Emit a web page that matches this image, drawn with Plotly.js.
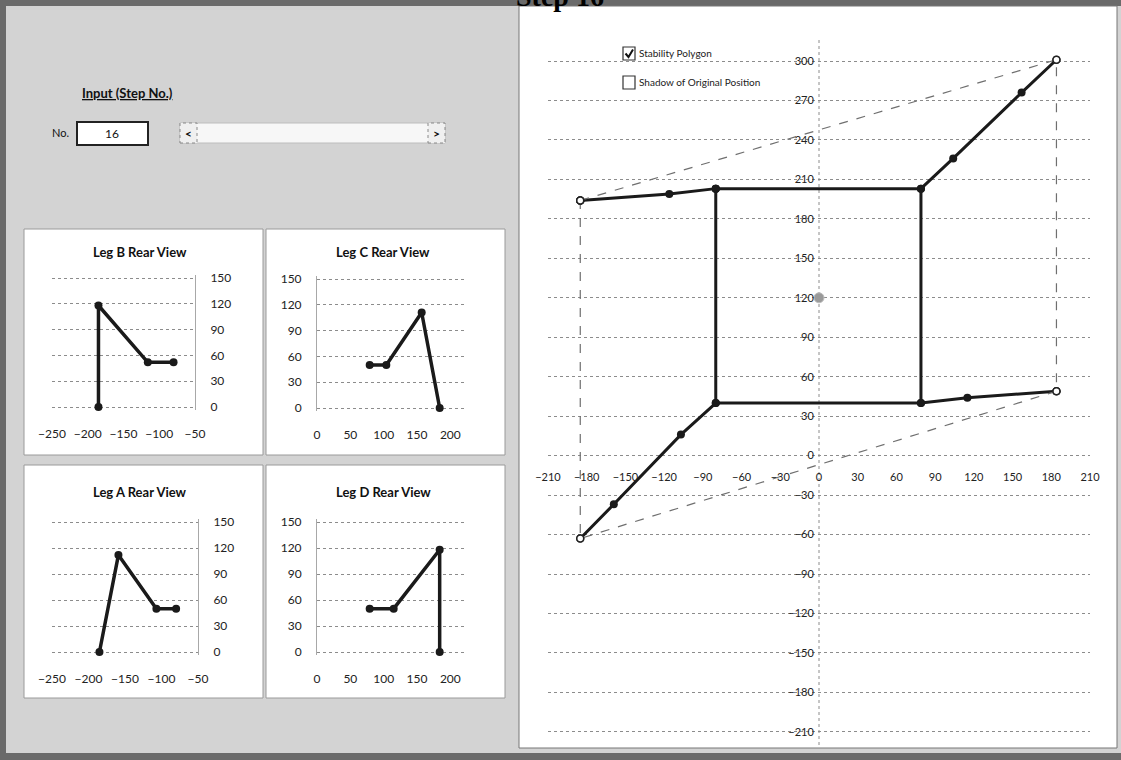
<!DOCTYPE html>
<html>
<head>
<meta charset="utf-8">
<script src="https://cdn.plot.ly/plotly-3.0.1.min.js"></script>
<style>
html,body{margin:0;padding:0;background:#d3d3d3;}
#chart{width:1121px;height:760px;}
</style>
</head>
<body>
<div id="chart"></div>
<script>
// ---------------- data ----------------
const stepNo = 16;
const stepTitle = "Step 16";

// leg coordinates: x (lateral), z (height, rear view), y (top view)
const legB_x = [-185, -185, -116, -80];
const legB_z = [0, 118, 52, 52];
const legB_y = [194, 194, 199, 203];

const legC_x = [79, 104, 157, 184];
const legC_z = [50, 50, 111, 0];
const legC_y = [203, 226, 276, 301];

const legA_x = [-185, -159, -107, -80];
const legA_z = [0, 112, 50, 50];
const legA_y = [-63, -37, 16, 40];

const legD_x = [79, 115, 184, 184];
const legD_z = [50, 50, 118, 0];
const legD_y = [40, 44, 49, 49];

const bodyX = [-80, 79, 79, -80, -80];
const bodyY = [203, 203, 40, 40, 203];

const polygonX = [-185, 184, 184, -185, -185];
const polygonY = [194, 301, 49, -63, 194];

const centerX = [0];
const centerY = [120];

const mainXTicks = [-210, -180, -150, -120, -90, -60, -30, 0, 30, 60, 90, 120, 150, 180, 210];
const mainYTicks = [-210, -180, -150, -120, -90, -60, -30, 0, 30, 60, 90, 120, 150, 180, 210, 240, 270, 300];
const leftLegXTicks = [-250, -200, -150, -100, -50];
const rightLegXTicks = [0, 50, 100, 150, 200];
const legZTicks = [0, 30, 60, 90, 120, 150];

// ---------------- helpers ----------------
const W = 1121, H = 760;
const fx = p => p / W;
const fy = p => 1 - p / H;
const FONT = "Lato, 'Open Sans', sans-serif";
const INK = '#1a1a1a';
const GRID = '#8c8c8c';

function legTrace(x, y, xa, ya, w) {
  return {
    x: x, y: y, xaxis: xa, yaxis: ya, type: 'scatter', mode: 'lines+markers',
    line: {color: INK, width: w || 3}, marker: {color: INK, size: 8},
    cliponaxis: false, hoverinfo: 'skip', showlegend: false
  };
}

const traces = [
  legTrace(legB_x, legB_y, 'x', 'y'),
  legTrace(legC_x, legC_y, 'x', 'y'),
  legTrace(legA_x, legA_y, 'x', 'y'),
  legTrace(legD_x, legD_y, 'x', 'y'),
  legTrace(bodyX, bodyY, 'x', 'y'),
  {
    x: polygonX, y: polygonY, xaxis: 'x', yaxis: 'y', type: 'scatter', mode: 'lines+markers',
    line: {color: '#6f6f6f', width: 1.2, dash: 'dash'},
    marker: {color: 'white', size: 7, line: {color: '#222', width: 1.6}},
    cliponaxis: false, hoverinfo: 'skip', showlegend: false
  },
  {
    x: centerX, y: centerY, xaxis: 'x', yaxis: 'y', type: 'scatter', mode: 'markers',
    marker: {color: '#9a9a9a', size: 10, line: {color: '#bdbdbd', width: 1}},
    hoverinfo: 'skip', showlegend: false
  },
  legTrace(legB_x, legB_z, 'x2', 'y2', 3.5),
  legTrace(legC_x, legC_z, 'x3', 'y3', 3.5),
  legTrace(legA_x, legA_z, 'x4', 'y4', 3.5),
  legTrace(legD_x, legD_z, 'x5', 'y5', 3.5)
];

// main plot area
const mainDomX = [fx(548), fx(1090)];
const mainDomY = [fy(745), fy(40)];
const mainYRange = [-220, 316];
const zeroPaperY = mainDomY[0] + (0 - mainYRange[0]) / (mainYRange[1] - mainYRange[0]) * (mainDomY[1] - mainDomY[0]);
const zeroPaperX = mainDomX[0] + 0.5 * (mainDomX[1] - mainDomX[0]);

function smallX(dom, range, ticks) {
  return {
    domain: dom, range: range, tickmode: 'array', tickvals: ticks,
    showgrid: false, zeroline: false, showline: false,
    ticks: 'outside', ticklen: 13, tickcolor: 'rgba(0,0,0,0)',
    tickfont: {family: FONT, size: 12, color: '#222'}, fixedrange: true
  };
}
// small charts: 0..150 mapped to pixel rows, padded a little so edge gridlines draw
const PAD = 3;
function rowDomain(p0, p150) {
  const k = (p0 - p150) / 150;
  return [fy(p0 + PAD * k), fy(p150 - PAD * k)];
}
function smallY(dom, side, anchor) {
  return {
    domain: dom, range: [-PAD, 150 + PAD], tickmode: 'array', tickvals: legZTicks, side: side, anchor: anchor,
    showgrid: true, gridcolor: GRID, griddash: 'dot', gridwidth: 1, zeroline: false,
    showline: true, linecolor: '#a8a8a8', linewidth: 1,
    ticks: 'outside', ticklen: 12, tickcolor: 'rgba(0,0,0,0)',
    tickfont: {family: FONT, size: 12, color: '#222'}, fixedrange: true
  };
}

const topRowB = rowDomain(407, 278);
const topRowC = rowDomain(408, 279);
const botRow = rowDomain(652, 522);

const boxLine = {color: '#9a9a9a', width: 1};
const shapes = [
  // outer dark frame strips
  {type: 'rect', xref: 'paper', yref: 'paper', x0: 0, x1: 1, y0: fy(6), y1: 1, fillcolor: '#6a6a6a', line: {width: 0}, layer: 'below'},
  {type: 'rect', xref: 'paper', yref: 'paper', x0: 0, x1: fx(6), y0: 0, y1: 1, fillcolor: '#6a6a6a', line: {width: 0}, layer: 'below'},
  {type: 'rect', xref: 'paper', yref: 'paper', x0: 0, x1: 1, y0: 0, y1: fy(753), fillcolor: '#6a6a6a', line: {width: 0}, layer: 'below'},
  // main chart box
  {type: 'rect', xref: 'paper', yref: 'paper', x0: fx(519), x1: fx(1117), y0: fy(748), y1: fy(6), fillcolor: 'white', line: {color: '#777', width: 1}, layer: 'below'},
  // small chart boxes
  {type: 'rect', xref: 'paper', yref: 'paper', x0: fx(24), x1: fx(263), y0: fy(455), y1: fy(229), fillcolor: 'white', line: boxLine, layer: 'below'},
  {type: 'rect', xref: 'paper', yref: 'paper', x0: fx(266), x1: fx(505), y0: fy(455), y1: fy(229), fillcolor: 'white', line: boxLine, layer: 'below'},
  {type: 'rect', xref: 'paper', yref: 'paper', x0: fx(24), x1: fx(263), y0: fy(698), y1: fy(465), fillcolor: 'white', line: boxLine, layer: 'below'},
  {type: 'rect', xref: 'paper', yref: 'paper', x0: fx(266), x1: fx(505), y0: fy(698), y1: fy(465), fillcolor: 'white', line: boxLine, layer: 'below'},
  // main chart vertical axis line at x = 0
  {type: 'line', xref: 'x', yref: 'paper', x0: 0, x1: 0, y0: mainDomY[0], y1: mainDomY[1], line: {color: GRID, width: 1, dash: 'dot'}, layer: 'below'},
  // input box
  {type: 'rect', xref: 'paper', yref: 'paper', x0: fx(77), x1: fx(148), y0: fy(145), y1: fy(122), fillcolor: 'white', line: {color: '#222', width: 2}},
  // scrollbar
  {type: 'rect', xref: 'paper', yref: 'paper', x0: fx(180), x1: fx(445), y0: fy(143), y1: fy(123), fillcolor: '#f7f7f7', line: {color: '#bdbdbd', width: 1}},
  {type: 'rect', xref: 'paper', yref: 'paper', x0: fx(180), x1: fx(197), y0: fy(143), y1: fy(123), fillcolor: '#f0f0f0', line: {color: '#8a8a8a', width: 1, dash: 'dot'}},
  {type: 'rect', xref: 'paper', yref: 'paper', x0: fx(428), x1: fx(445), y0: fy(143), y1: fy(123), fillcolor: '#f0f0f0', line: {color: '#8a8a8a', width: 1, dash: 'dot'}},
  // checkboxes
  {type: 'rect', xref: 'paper', yref: 'paper', x0: fx(623), x1: fx(635), y0: fy(60), y1: fy(47), fillcolor: 'white', line: {color: '#333', width: 1.2}},
  {type: 'path', xref: 'paper', yref: 'paper', path: `M ${fx(625.5)} ${fy(53.5)} L ${fx(628.5)} ${fy(57)} L ${fx(633)} ${fy(49.5)}`, line: {color: '#111', width: 2}},
  {type: 'rect', xref: 'paper', yref: 'paper', x0: fx(623), x1: fx(635), y0: fy(89), y1: fy(76), fillcolor: 'white', line: {color: '#333', width: 1.2}}
];

function ann(text, x, y, size, opts) {
  return Object.assign({
    text: text, xref: 'paper', yref: 'paper', x: fx(x), y: fy(y), showarrow: false,
    xanchor: 'center', yanchor: 'middle',
    font: {family: FONT, size: size, color: '#111'}
  }, opts || {});
}

const annotations = [
  ann('<b>' + stepTitle + '</b>', 560, 14, 28, {yanchor: 'bottom', font: {family: "'Liberation Serif', 'DejaVu Serif', serif", size: 28, color: '#000'}}),
  ann('<b><u>Input (Step No.)</u></b>', 80, 93, 13, {xanchor: 'left'}),
  ann('No.', 60, 132, 11),
  ann(String(stepNo), 112, 133, 12),
  ann('<b>&lt;</b>', 188.5, 133, 12),
  ann('<b>&gt;</b>', 436.5, 133, 12),
  ann('Stability Polygon', 637, 53, 10, {xanchor: 'left', font: {family: FONT, size: 10, color: '#222'}}),
  ann('Shadow of Original Position', 637, 82, 10, {xanchor: 'left', font: {family: FONT, size: 10, color: '#222'}}),
  ann('<b>Leg B Rear View</b>', 140, 252, 13),
  ann('<b>Leg C Rear View</b>', 383, 252, 13),
  ann('<b>Leg A Rear View</b>', 140, 492, 13),
  ann('<b>Leg D Rear View</b>', 383, 492, 13)
];

const layout = {
  width: W, height: H,
  margin: {l: 0, r: 0, t: 0, b: 0, pad: 0},
  paper_bgcolor: '#d3d3d3',
  plot_bgcolor: 'rgba(0,0,0,0)',
  showlegend: false,
  font: {family: FONT, color: '#222'},
  xaxis: {
    domain: mainDomX, range: [-210, 210], tickmode: 'array', tickvals: mainXTicks,
    anchor: 'free', position: zeroPaperY,
    showgrid: false, zeroline: false, showline: false,
    ticks: 'outside', ticklen: 11, tickcolor: 'rgba(0,0,0,0)',
    tickfont: {family: FONT, size: 11, color: '#222'}, fixedrange: true
  },
  yaxis: {
    domain: mainDomY, range: mainYRange, tickmode: 'array', tickvals: mainYTicks,
    anchor: 'free', position: zeroPaperX, side: 'left',
    showgrid: true, gridcolor: GRID, griddash: 'dot', gridwidth: 1,
    zeroline: false, showline: false,
    ticks: 'outside', ticklen: 3, tickcolor: 'rgba(0,0,0,0)',
    tickfont: {family: FONT, size: 11, color: '#222'}, fixedrange: true
  },
  xaxis2: Object.assign(smallX([fx(52), fx(195)], [-250, -50], leftLegXTicks), {anchor: 'y2'}),
  yaxis2: smallY(topRowB, 'right', 'x2'),
  xaxis3: Object.assign(smallX([fx(317), fx(465)], [0, 222], rightLegXTicks), {anchor: 'y3'}),
  yaxis3: smallY(topRowC, 'left', 'x3'),
  xaxis4: Object.assign(smallX([fx(52), fx(198)], [-250, -50], leftLegXTicks), {anchor: 'y4'}),
  yaxis4: smallY(botRow, 'right', 'x4'),
  xaxis5: Object.assign(smallX([fx(317), fx(465)], [0, 222], rightLegXTicks), {anchor: 'y5'}),
  yaxis5: smallY(botRow, 'left', 'x5'),
  shapes: shapes,
  annotations: annotations
};

Plotly.newPlot('chart', traces, layout, {staticPlot: true, displayModeBar: false});
</script>
</body>
</html>
